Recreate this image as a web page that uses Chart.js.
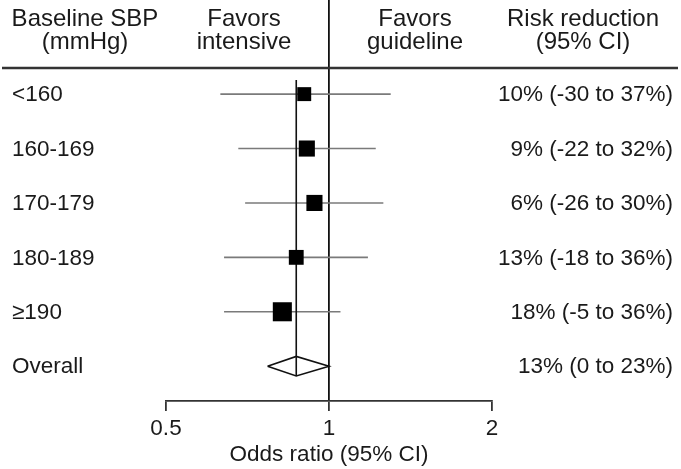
<!DOCTYPE html>
<html>
<head>
<meta charset="utf-8">
<script src="https://cdn.jsdelivr.net/npm/chart.js@4/dist/chart.umd.min.js"></script>
<style>
  html, body { margin: 0; padding: 0; background: #fff; }
  #wrap { width: 681px; height: 469px; }
</style>
</head>
<body>
<div id="wrap"><canvas id="forest" width="681" height="469"></canvas></div>
<script>
// forest plot data (odds ratios)
const rowLabels = ['<160', '160-169', '170-179', '180-189', '\u2265190', 'Overall'];
const oddsRatio = [0.90, 0.91, 0.94, 0.87, 0.82];
const ciLow = [0.63, 0.68, 0.70, 0.64, 0.64];
const ciHigh = [1.30, 1.22, 1.26, 1.18, 1.05];
const weights = [15, 20, 20, 17, 28]; // relative weight -> box area
const overall = [0.87, 0.77, 1.00]; // estimate, low, high
const riskText = ['10% (-30 to 37%)', '9% (-22 to 32%)', '6% (-26 to 30%)',
    '13% (-18 to 36%)', '18% (-5 to 36%)', '13% (0 to 23%)'];
const xTicks = [0.5, 1, 2];

const FONT = 'Liberation Sans, Arial, sans-serif';
const TEXT = '#1a1a1a';
const overallRow = rowLabels.length - 1;
const diamondHalf = 0.18;

// CI whiskers, one line dataset each
const ciSets = oddsRatio.map((v, i) => ({
    type: 'line',
    data: [{ x: ciLow[i], y: i }, { x: ciHigh[i], y: i }],
    borderColor: '#7a7a7a',
    borderWidth: 1.6,
    pointRadius: 0,
    order: 4
}));

const datasets = ciSets.concat([
    {
        // overall diamond
        type: 'line',
        data: [
            { x: overall[1], y: overallRow },
            { x: overall[0], y: overallRow - diamondHalf },
            { x: overall[2], y: overallRow },
            { x: overall[0], y: overallRow + diamondHalf },
            { x: overall[1], y: overallRow }
        ],
        borderColor: '#111',
        borderWidth: 1.6,
        backgroundColor: '#fff',
        fill: true,
        pointRadius: 0,
        tension: 0,
        order: 3
    },
    {
        // vertical line at the overall estimate
        type: 'line',
        data: [{ x: overall[0], y: -0.26 }, { x: overall[0], y: overallRow + diamondHalf }],
        borderColor: '#111',
        borderWidth: 1.6,
        pointRadius: 0,
        order: 2
    },
    {
        // boxes
        type: 'scatter',
        data: oddsRatio.map((v, i) => ({ x: v, y: i })),
        pointStyle: 'rect',
        pointRadius: weights.map(w => Math.sqrt(w) * 3.6 / Math.SQRT2),
        backgroundColor: '#000',
        borderColor: '#000',
        borderWidth: 0,
        order: 1
    }
]);

// table text + header rule
const tablePlugin = {
    id: 'tableText',
    afterDraw(chart) {
        const ctx = chart.ctx;
        const y = chart.scales.y;
        ctx.save();
        ctx.fillStyle = TEXT;
        ctx.font = '22.5px ' + FONT;
        ctx.textBaseline = 'middle';
        rowLabels.forEach((lab, i) => {
            const py = y.getPixelForValue(i) + 1;
            ctx.textAlign = 'left';
            ctx.fillText(lab, 12, py);
            ctx.textAlign = 'right';
            ctx.fillText(riskText[i], 673, py);
        });
        // header
        ctx.font = '24px ' + FONT;
        ctx.textBaseline = 'alphabetic';
        ctx.textAlign = 'center';
        const head = [
            ['Baseline SBP', '(mmHg)', 85],
            ['Favors', 'intensive', 244],
            ['Favors', 'guideline', 415],
            ['Risk reduction', '(95% CI)', 583]
        ];
        head.forEach(h => {
            ctx.fillText(h[0], h[2], 26);
            ctx.fillText(h[1], h[2], 49);
        });
        ctx.strokeStyle = '#333';
        ctx.lineWidth = 2.5;
        ctx.beginPath();
        ctx.moveTo(2, 68);
        ctx.lineTo(678, 68);
        ctx.stroke();
        ctx.restore();
    }
};

new Chart(document.getElementById('forest'), {
    type: 'scatter',
    data: { datasets: datasets },
    options: {
        responsive: false,
        animation: false,
        layout: { autoPadding: false, padding: { left: 166, right: 189, top: 0, bottom: 0 } },
        plugins: {
            legend: { display: false },
            tooltip: { enabled: false }
        },
        scales: {
            x: {
                type: 'logarithmic',
                min: 0.5,
                max: 2,
                afterBuildTicks: scale => {
                    scale.ticks = xTicks.map(v => ({ value: v }));
                },
                afterFit: scale => {
                    scale.height = 68; // axis line sits at y = 401
                },
                ticks: {
                    autoSkip: false,
                    maxRotation: 0,
                    padding: 7,
                    color: TEXT,
                    font: { family: FONT, size: 22.5, lineHeight: 1.0 },
                    callback: v => String(v)
                },
                grid: {
                    drawOnChartArea: true,
                    color: c => (c.tick && c.tick.value === 1 ? '#111' : 'rgba(0,0,0,0)'),
                    lineWidth: 1.8,
                    tickLength: 10,
                    tickColor: '#333',
                    tickWidth: 1.8
                },
                border: { display: true, color: '#333', width: 1.8 },
                title: {
                    display: true,
                    text: 'Odds ratio (95% CI)',
                    color: TEXT,
                    font: { family: FONT, size: 22.5, lineHeight: 1.0 },
                    padding: { top: 0, bottom: 3 }
                }
            },
            y: {
                type: 'linear',
                min: -1.73,
                max: 5.64,
                reverse: true,
                display: false
            }
        }
    },
    plugins: [tablePlugin]
});
</script>
</body>
</html>
